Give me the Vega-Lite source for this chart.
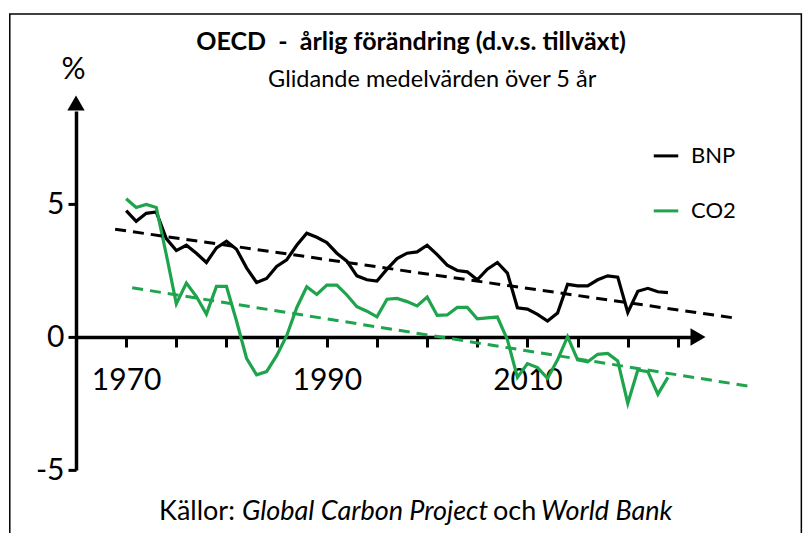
{
  "$schema": "https://vega.github.io/schema/vega-lite/v6.json",
  "width": 617,
  "height": 359.1,
  "autosize": "none",
  "padding": {"left": 76, "top": 110.9, "right": 114, "bottom": 63},
  "background": "#ffffff",
  "config": {"view": {"stroke": null}, "font": "Lato", "axis": {"grid": false}},
  "datasets": {
    "series": [
      {"year": 1970, "series": "BNP", "value": 4.75}, {"year": 1971, "series": "BNP", "value": 4.35}, {"year": 1972, "series": "BNP", "value": 4.65}, {"year": 1973, "series": "BNP", "value": 4.7}, {"year": 1974, "series": "BNP", "value": 3.7},
      {"year": 1975, "series": "BNP", "value": 3.25}, {"year": 1976, "series": "BNP", "value": 3.45}, {"year": 1977, "series": "BNP", "value": 3.15}, {"year": 1978, "series": "BNP", "value": 2.8}, {"year": 1979, "series": "BNP", "value": 3.35},
      {"year": 1980, "series": "BNP", "value": 3.6}, {"year": 1981, "series": "BNP", "value": 3.3}, {"year": 1982, "series": "BNP", "value": 2.6}, {"year": 1983, "series": "BNP", "value": 2.05}, {"year": 1984, "series": "BNP", "value": 2.2},
      {"year": 1985, "series": "BNP", "value": 2.65}, {"year": 1986, "series": "BNP", "value": 2.9}, {"year": 1987, "series": "BNP", "value": 3.45}, {"year": 1988, "series": "BNP", "value": 3.9}, {"year": 1989, "series": "BNP", "value": 3.75},
      {"year": 1990, "series": "BNP", "value": 3.55}, {"year": 1991, "series": "BNP", "value": 3.15}, {"year": 1992, "series": "BNP", "value": 2.85}, {"year": 1993, "series": "BNP", "value": 2.3}, {"year": 1994, "series": "BNP", "value": 2.15},
      {"year": 1995, "series": "BNP", "value": 2.1}, {"year": 1996, "series": "BNP", "value": 2.55}, {"year": 1997, "series": "BNP", "value": 2.95}, {"year": 1998, "series": "BNP", "value": 3.15}, {"year": 1999, "series": "BNP", "value": 3.2},
      {"year": 2000, "series": "BNP", "value": 3.45}, {"year": 2001, "series": "BNP", "value": 3.1}, {"year": 2002, "series": "BNP", "value": 2.7}, {"year": 2003, "series": "BNP", "value": 2.5}, {"year": 2004, "series": "BNP", "value": 2.45},
      {"year": 2005, "series": "BNP", "value": 2.15}, {"year": 2006, "series": "BNP", "value": 2.55}, {"year": 2007, "series": "BNP", "value": 2.8}, {"year": 2008, "series": "BNP", "value": 2.4}, {"year": 2009, "series": "BNP", "value": 1.1},
      {"year": 2010, "series": "BNP", "value": 1.05}, {"year": 2011, "series": "BNP", "value": 0.85}, {"year": 2012, "series": "BNP", "value": 0.6}, {"year": 2013, "series": "BNP", "value": 0.9}, {"year": 2014, "series": "BNP", "value": 1.98},
      {"year": 2015, "series": "BNP", "value": 1.92}, {"year": 2016, "series": "BNP", "value": 1.92}, {"year": 2017, "series": "BNP", "value": 2.15}, {"year": 2018, "series": "BNP", "value": 2.3}, {"year": 2019, "series": "BNP", "value": 2.25},
      {"year": 2020, "series": "BNP", "value": 0.92}, {"year": 2021, "series": "BNP", "value": 1.72}, {"year": 2022, "series": "BNP", "value": 1.83}, {"year": 2023, "series": "BNP", "value": 1.7}, {"year": 2024, "series": "BNP", "value": 1.67},
      {"year": 1970, "series": "CO2", "value": 5.2}, {"year": 1971, "series": "CO2", "value": 4.87}, {"year": 1972, "series": "CO2", "value": 4.98}, {"year": 1973, "series": "CO2", "value": 4.87}, {"year": 1974, "series": "CO2", "value": 3.1},
      {"year": 1975, "series": "CO2", "value": 1.25}, {"year": 1976, "series": "CO2", "value": 2.03}, {"year": 1977, "series": "CO2", "value": 1.52}, {"year": 1978, "series": "CO2", "value": 0.86}, {"year": 1979, "series": "CO2", "value": 1.9},
      {"year": 1980, "series": "CO2", "value": 1.9}, {"year": 1981, "series": "CO2", "value": 0.6}, {"year": 1982, "series": "CO2", "value": -0.8}, {"year": 1983, "series": "CO2", "value": -1.42}, {"year": 1984, "series": "CO2", "value": -1.3},
      {"year": 1985, "series": "CO2", "value": -0.7}, {"year": 1986, "series": "CO2", "value": 0.05}, {"year": 1987, "series": "CO2", "value": 1.1}, {"year": 1988, "series": "CO2", "value": 1.89}, {"year": 1989, "series": "CO2", "value": 1.6},
      {"year": 1990, "series": "CO2", "value": 1.95}, {"year": 1991, "series": "CO2", "value": 1.95}, {"year": 1992, "series": "CO2", "value": 1.58}, {"year": 1993, "series": "CO2", "value": 1.14}, {"year": 1994, "series": "CO2", "value": 0.97},
      {"year": 1995, "series": "CO2", "value": 0.76}, {"year": 1996, "series": "CO2", "value": 1.42}, {"year": 1997, "series": "CO2", "value": 1.45}, {"year": 1998, "series": "CO2", "value": 1.33}, {"year": 1999, "series": "CO2", "value": 1.17},
      {"year": 2000, "series": "CO2", "value": 1.5}, {"year": 2001, "series": "CO2", "value": 0.81}, {"year": 2002, "series": "CO2", "value": 0.83}, {"year": 2003, "series": "CO2", "value": 1.11}, {"year": 2004, "series": "CO2", "value": 1.11},
      {"year": 2005, "series": "CO2", "value": 0.68}, {"year": 2006, "series": "CO2", "value": 0.72}, {"year": 2007, "series": "CO2", "value": 0.75}, {"year": 2008, "series": "CO2", "value": -0.1}, {"year": 2009, "series": "CO2", "value": -1.52},
      {"year": 2010, "series": "CO2", "value": -1.0}, {"year": 2011, "series": "CO2", "value": -1.15}, {"year": 2012, "series": "CO2", "value": -1.55}, {"year": 2013, "series": "CO2", "value": -0.86}, {"year": 2014, "series": "CO2", "value": 0.01},
      {"year": 2015, "series": "CO2", "value": -0.86}, {"year": 2016, "series": "CO2", "value": -0.93}, {"year": 2017, "series": "CO2", "value": -0.65}, {"year": 2018, "series": "CO2", "value": -0.62}, {"year": 2019, "series": "CO2", "value": -0.9},
      {"year": 2020, "series": "CO2", "value": -2.49}, {"year": 2021, "series": "CO2", "value": -1.24}, {"year": 2022, "series": "CO2", "value": -1.3}, {"year": 2023, "series": "CO2", "value": -2.15}, {"year": 2024, "series": "CO2", "value": -1.52}
    ],
    "trend": [
      {"year": 1968.9, "series": "BNP", "value": 4.05},
      {"year": 2030.9, "series": "BNP", "value": 0.7},
      {"year": 1970.6, "series": "CO2", "value": 1.85},
      {"year": 2032.4, "series": "CO2", "value": -1.87}
    ]
  },
  "layer": [
    {
      "data": {"name": "series"},
      "mark": {"type": "line", "strokeWidth": 3.2, "clip": false},
      "encoding": {
        "x": {
          "field": "year", "type": "quantitative",
          "scale": {"domain": [1965, 2026.5], "nice": false, "zero": false},
          "axis": {
            "title": null,
            "values": [1970, 1975, 1980, 1985, 1990, 1995, 2000, 2005, 2010, 2015, 2020, 2025],
            "labelExpr": "datum.value % 20 == 10 ? '' + datum.value : ''",
            "offset": -133,
            "domainColor": "#000000", "domainWidth": 3.5,
            "tickColor": "#000000", "tickWidth": 3, "tickSize": 10,
            "labelFont": "Lato", "labelFontSize": 30, "labelColor": "#000000",
            "labelPadding": 18, "labelFlush": false, "labelOverlap": false, "grid": false
          }
        },
        "y": {
          "field": "value", "type": "quantitative",
          "scale": {"domain": [-5, 8.5], "nice": false, "zero": false},
          "axis": {
            "title": "%",
            "values": [-5, 0, 5],
            "labelExpr": "datum.value < 0 ? '-' + abs(datum.value) : '' + datum.value",
            "domainColor": "#000000", "domainWidth": 3.5,
            "tickColor": "#000000", "tickWidth": 3, "tickSize": 8,
            "labelFont": "Lato", "labelFontSize": 30, "labelColor": "#000000", "labelPadding": 4,
            "titleAngle": 0, "titleX": -3, "titleY": -41, "titleFont": "Lato", "titleFontSize": 30,
            "titleFontWeight": "normal", "titleAlign": "center", "titleBaseline": "middle", "titleColor": "#000000",
            "grid": false
          }
        },
        "color": {
          "field": "series", "type": "nominal",
          "scale": {"domain": ["BNP", "CO2"], "range": ["#000000", "#1ea44c"]},
          "legend": {
            "title": null, "orient": "none", "legendX": 576, "legendY": 31,
            "symbolType": "stroke", "symbolSize": 600, "symbolStrokeWidth": 3,
            "labelFont": "Lato", "labelFontSize": 22, "labelColor": "#000000",
            "rowPadding": 30, "labelOffset": 11, "padding": 0
          }
        }
      }
    },
    {
      "data": {"name": "trend"},
      "mark": {"type": "line", "strokeWidth": 3, "strokeDash": [11, 7], "clip": false},
      "encoding": {
        "x": {"field": "year", "type": "quantitative", "title": null},
        "y": {"field": "value", "type": "quantitative", "title": "%"},
        "color": {"field": "series", "type": "nominal", "legend": null}
      }
    },
    {
      "data": {"values": [{}]},
      "mark": {"type": "rect", "fillOpacity": 0, "stroke": "#000000", "strokeWidth": 1.5, "clip": false},
      "encoding": {
        "x": {"datum": 1958.4, "type": "quantitative"},
        "x2": {"datum": 2037.3},
        "y": {"datum": 12.14, "type": "quantitative"},
        "y2": {"datum": -7.8}
      }
    },
    {
      "data": {"values": [{}]},
      "mark": {"type": "point", "shape": "triangle-up", "filled": true, "color": "#000000", "opacity": 1, "size": 300, "clip": false},
      "encoding": {
        "x": {"datum": 1965, "type": "quantitative"},
        "y": {"datum": 8.8, "type": "quantitative"}
      }
    },
    {
      "data": {"values": [{}]},
      "mark": {"type": "point", "shape": "triangle-right", "filled": true, "color": "#000000", "opacity": 1, "size": 300, "clip": false},
      "encoding": {
        "x": {"datum": 2027.0, "type": "quantitative"},
        "y": {"datum": 0, "type": "quantitative"}
      }
    },
    {
      "data": {"values": [{}]},
      "mark": {"type": "text", "text": "OECD \u00a0-\u00a0 årlig förändring (d.v.s. tillväxt)", "align": "center", "baseline": "middle", "font": "Lato", "fontSize": 25, "fontWeight": "bold", "color": "#000000", "clip": false},
      "encoding": {
        "x": {"datum": 1998.4, "type": "quantitative"},
        "y": {"datum": 11.1, "type": "quantitative"}
      }
    },
    {
      "data": {"values": [{}]},
      "mark": {"type": "text", "text": "Glidande medelvärden över 5 år", "align": "center", "baseline": "middle", "font": "Lato", "fontSize": 23.5, "color": "#000000", "clip": false},
      "encoding": {
        "x": {"datum": 2000.5, "type": "quantitative"},
        "y": {"datum": 9.66, "type": "quantitative"}
      }
    },
    {
      "data": {"values": [{}]},
      "mark": {"type": "text", "text": "Källor:", "align": "left", "baseline": "middle", "font": "Lato", "fontSize": 27, "color": "#000000", "clip": false},
      "encoding": {
        "x": {"datum": 1973.28, "type": "quantitative"},
        "y": {"datum": -6.58, "type": "quantitative"}
      }
    },
    {
      "data": {"values": [{}]},
      "mark": {"type": "text", "text": "Global Carbon Project", "align": "left", "baseline": "middle", "font": "Lato", "fontSize": 27, "fontStyle": "italic", "color": "#000000", "clip": false},
      "encoding": {
        "x": {"datum": 1981.55, "type": "quantitative"},
        "y": {"datum": -6.58, "type": "quantitative"}
      }
    },
    {
      "data": {"values": [{}]},
      "mark": {"type": "text", "text": "och", "align": "left", "baseline": "middle", "font": "Lato", "fontSize": 27, "color": "#000000", "clip": false},
      "encoding": {
        "x": {"datum": 2006.57, "type": "quantitative"},
        "y": {"datum": -6.58, "type": "quantitative"}
      }
    },
    {
      "data": {"values": [{}]},
      "mark": {"type": "text", "text": "World Bank", "align": "left", "baseline": "middle", "font": "Lato", "fontSize": 27, "fontStyle": "italic", "color": "#000000", "clip": false},
      "encoding": {
        "x": {"datum": 2011.36, "type": "quantitative"},
        "y": {"datum": -6.58, "type": "quantitative"}
      }
    }
  ]
}
